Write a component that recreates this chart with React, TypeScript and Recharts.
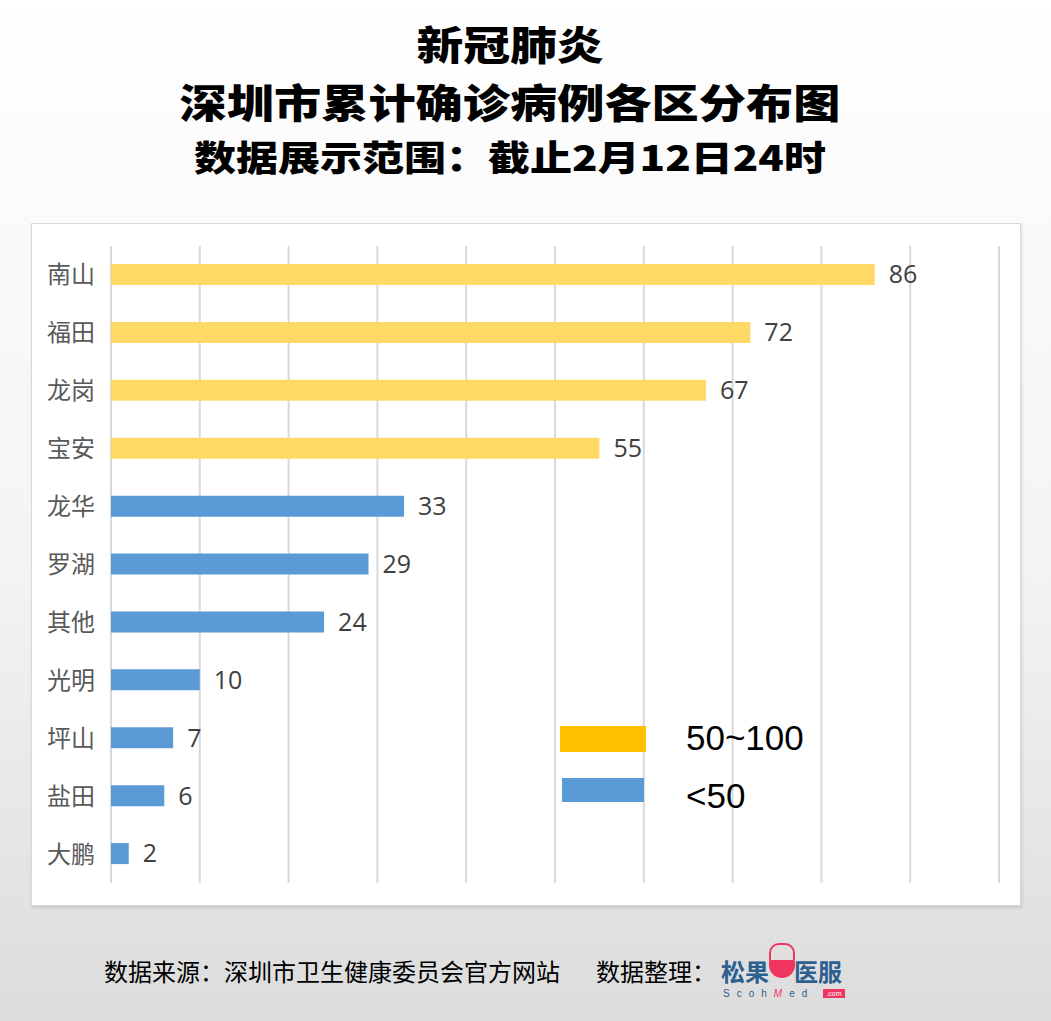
import React from "react";
import { BarChart, Bar, XAxis, YAxis, CartesianGrid, Cell, LabelList } from "recharts";

// 各区累计确诊病例（截止2月12日24时）
const districts = ["南山", "福田", "龙岗", "宝安", "龙华", "罗湖", "其他", "光明", "坪山", "盐田", "大鹏"];
const cases = [86, 72, 67, 55, 33, 29, 24, 10, 7, 6, 2];
const xTicks = [0, 10, 20, 30, 40, 50, 60, 70, 80, 90, 100];
const legendItems = ["50~100", "<50"];

const HIGH = "#FFD966";
const LOW = "#5B9BD5";
const LEGEND_COLORS = ["#FFC000", "#5B9BD5"];

const CJK = '"Noto Sans CJK SC", "Noto Sans", sans-serif';

const data = districts.map((name, i) => ({ name, value: cases[i] }));

const titleStyle = (top: number, fontSize: number, sx: number): React.CSSProperties => ({
  position: "absolute",
  left: 0,
  top,
  width: 1020,
  textAlign: "center",
  fontSize,
  fontWeight: 900,
  lineHeight: "normal",
  color: "#000",
  whiteSpace: "nowrap",
  transform: `scaleX(${sx})`,
});

export default function App() {
  return (
    <div
      style={{
        position: "absolute",
        left: 0,
        top: 0,
        width: 1051,
        height: 1021,
        overflow: "hidden",
        background: "linear-gradient(#ffffff 0%, #fafafa 22%, #f4f4f4 55%, #dcdcdc 100%)",
        fontFamily: CJK,
      }}
    >
      {/* 标题 */}
      <div style={titleStyle(14, 40, 1.17)}>新冠肺炎</div>
      <div style={titleStyle(72, 40, 1.18)}>深圳市累计确诊病例各区分布图</div>
      <div style={titleStyle(130, 35, 1.2)}>数据展示范围：截止2月12日24时</div>

      {/* 图表面板 */}
      <div
        style={{
          position: "absolute",
          left: 31,
          top: 223,
          width: 988,
          height: 681,
          background: "#fff",
          border: "1px solid #d9d9d9",
          boxShadow: "1px 2px 3px rgba(0,0,0,0.12)",
        }}
      />
      <div style={{ position: "absolute", left: 31, top: 223 }}>
        <BarChart
          width={990}
          height={683}
          data={data}
          layout="vertical"
          margin={{ top: 23, right: 22, bottom: 23, left: 0 }}
          barSize={21}
        >
          <CartesianGrid horizontal={false} stroke="#d9d9d9" strokeWidth={2} />
          <XAxis
            type="number"
            domain={[0, 100]}
            ticks={xTicks}
            interval={0}
            height={0}
            axisLine={false}
            tickLine={false}
            tick={{ fill: "transparent", fontSize: 1 }}
          />
          <YAxis
            type="category"
            dataKey="name"
            width={80}
            axisLine={false}
            tickLine={false}
            tickSize={0}
            tickMargin={16}
            tick={{ fill: "#595959", fontSize: 24, fontFamily: CJK }}
          />
          <Bar dataKey="value" isAnimationActive={false}>
            {data.map((d, i) => (
              <Cell key={i} fill={d.value >= 50 ? HIGH : LOW} />
            ))}
            <LabelList
              dataKey="value"
              position="right"
              offset={14}
              fill="#404040"
              fontSize={25}
              fontFamily='"Open Sans", "Noto Sans", sans-serif'
            />
          </Bar>
        </BarChart>
      </div>

      {/* 图例 */}
      {legendItems.map((label, i) => (
        <React.Fragment key={label}>
          <div
            style={{
              position: "absolute",
              left: i === 0 ? 560 : 562,
              top: i === 0 ? 726 : 778,
              width: i === 0 ? 86 : 82,
              height: i === 0 ? 26 : 24,
              background: LEGEND_COLORS[i],
            }}
          />
          <div
            style={{
              position: "absolute",
              left: 686,
              top: i === 0 ? 718 : 776,
              fontSize: 35,
              lineHeight: "40px",
              fontFamily: '"Liberation Sans", Arial, sans-serif',
              color: "#000",
            }}
          >
            {label}
          </div>
        </React.Fragment>
      ))}

      {/* 页脚 */}
      <div style={{ position: "absolute", left: 104, top: 955, fontSize: 24, lineHeight: "32px", color: "#000", whiteSpace: "nowrap" }}>
        数据来源：深圳市卫生健康委员会官方网站
      </div>
      <div style={{ position: "absolute", left: 596, top: 955, fontSize: 24, lineHeight: "32px", color: "#000", whiteSpace: "nowrap" }}>
        数据整理：
      </div>
      <div style={{ position: "absolute", left: 721, top: 955, fontSize: 24, lineHeight: "32px", fontWeight: 700, color: "#2d5f8f", whiteSpace: "nowrap" }}>
        松果
      </div>
      <div style={{ position: "absolute", left: 769, top: 943, width: 22, height: 16, borderRadius: "10px 10px 4px 4px", border: "2px solid #f0365f" }} />
      <div style={{ position: "absolute", left: 769, top: 960, width: 26, height: 18, borderRadius: "3px 3px 13px 13px", background: "#f0365f" }} />
      <div style={{ position: "absolute", left: 794, top: 955, fontSize: 24, lineHeight: "32px", fontWeight: 700, color: "#2d5f8f", whiteSpace: "nowrap" }}>
        医服
      </div>
      <div style={{ position: "absolute", left: 723, top: 987, fontSize: 10, lineHeight: "14px", letterSpacing: 7, color: "#2d5f8f", fontFamily: '"Liberation Sans", sans-serif', whiteSpace: "nowrap" }}>
        Scoh<span style={{ color: "#f0365f", fontStyle: "italic" }}>M</span>ed
      </div>
      <div style={{ position: "absolute", left: 823, top: 989, width: 22, height: 9, background: "#f0365f", color: "#fff", fontSize: 7, lineHeight: "9px", textAlign: "center", fontFamily: '"Liberation Sans", sans-serif' }}>
        .com
      </div>
    </div>
  );
}
